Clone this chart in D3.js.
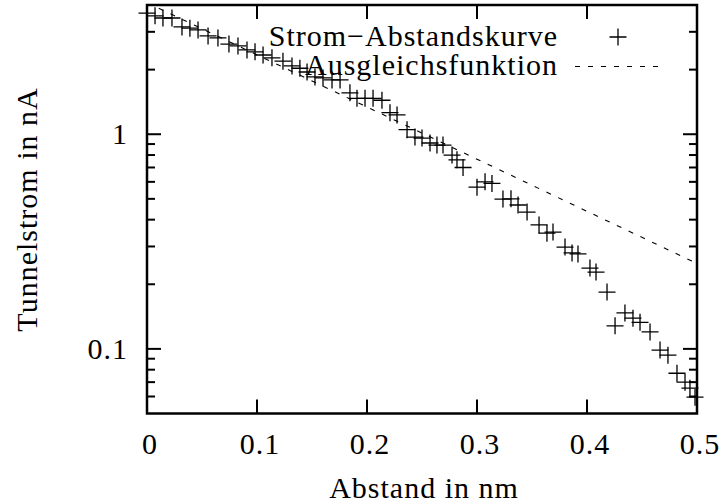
<!DOCTYPE html>
<html>
<head>
<meta charset="utf-8">
<script src="https://cdn.jsdelivr.net/npm/d3@7"></script>
<style>
  body { margin: 0; background: #fff; }
  text { font-family: "Liberation Serif", "Times New Roman", serif; font-size: 30px; fill: #000; letter-spacing: 1px; }
</style>
</head>
<body>
<script>
// Messwerte: Abstand (nm) und Tunnelstrom (nA)
const abstand = [0, 0.0073, 0.0145, 0.0227, 0.0318, 0.039, 0.0464, 0.0555, 0.0645, 0.0745,
  0.0827, 0.0909, 0.0982, 0.1055, 0.1136, 0.1236, 0.1318, 0.139, 0.1455, 0.1527,
  0.16, 0.1682, 0.1755, 0.1845, 0.1909, 0.1982, 0.2055, 0.2136, 0.2209, 0.2273,
  0.2364, 0.2436, 0.25, 0.2573, 0.2636, 0.2691, 0.2773, 0.2818, 0.2873, 0.3,
  0.3073, 0.3136, 0.3236, 0.3309, 0.3373, 0.3455, 0.3564, 0.3636, 0.3691, 0.38,
  0.3864, 0.3918, 0.4027, 0.4082, 0.4182, 0.4255, 0.4345, 0.4418, 0.4482, 0.4573,
  0.4664, 0.4736, 0.4818, 0.4891, 0.4936, 0.4982]
const strom = [3.67, 3.56, 3.48, 3.48, 3.16, 3.12, 3.06, 2.87, 2.81, 2.63,
  2.58, 2.47, 2.42, 2.34, 2.27, 2.19, 2.08, 2.03, 1.95, 1.85,
  1.83, 1.79, 1.79, 1.56, 1.47, 1.47, 1.47, 1.44, 1.26, 1.23,
  1.05, 0.97, 0.96, 0.91, 0.89, 0.89, 0.80, 0.76, 0.70, 0.567,
  0.60, 0.59, 0.499, 0.50, 0.468, 0.434, 0.378, 0.346, 0.350, 0.298,
  0.28, 0.277, 0.238, 0.228, 0.184, 0.128, 0.147, 0.139, 0.133, 0.120,
  0.0987, 0.0935, 0.077, 0.070, 0.0656, 0.0596]

// Ausgleichsfunktion (Exponentialfit -> Gerade im log-Plot), Endpunkte
const fitX = [0, 0.5]
const fitY = [4.1, 0.25]

const xTicks = [0, 0.1, 0.2, 0.3, 0.4, 0.5]
const xTickLabels = ['0', '0.1', '0.2', '0.3', '0.4', '0.5']
const yTicks = [0.1, 1]
const yTickLabels = ['0.1', '1']
const yMinor = [0.06, 0.07, 0.08, 0.09, 0.2, 0.3, 0.4, 0.5, 0.6, 0.7, 0.8, 0.9, 2, 3]

const W = 721, H = 504
const pLeft = 147, pRight = 697, pTop = 5, pBottom = 413.5

const svg = d3.select('body').append('svg')
  .attr('width', W)
  .attr('height', H)

svg.append('rect').attr('width', W).attr('height', H).attr('fill', '#fff')

const x = d3.scaleLinear().domain([0, 0.5]).range([pLeft, pRight])
const y = d3.scaleLog().domain([0.05, 4]).range([pBottom, pTop])

svg.append('clipPath').attr('id', 'clip')
  .append('rect')
  .attr('x', pLeft).attr('y', pTop)
  .attr('width', pRight - pLeft).attr('height', pBottom - pTop)

// Ticks (innen, gespiegelt)
const ticks = svg.append('g').attr('stroke', '#000').attr('stroke-width', 2)
xTicks.forEach(v => {
  ticks.append('line').attr('x1', x(v)).attr('x2', x(v)).attr('y1', pBottom).attr('y2', pBottom - 14)
  ticks.append('line').attr('x1', x(v)).attr('x2', x(v)).attr('y1', pTop).attr('y2', pTop + 14)
})
yTicks.forEach(v => {
  ticks.append('line').attr('x1', pLeft).attr('x2', pLeft + 14).attr('y1', y(v)).attr('y2', y(v))
  ticks.append('line').attr('x1', pRight).attr('x2', pRight - 14).attr('y1', y(v)).attr('y2', y(v))
})
yMinor.forEach(v => {
  ticks.append('line').attr('x1', pLeft).attr('x2', pLeft + 8).attr('y1', y(v)).attr('y2', y(v))
  ticks.append('line').attr('x1', pRight).attr('x2', pRight - 8).attr('y1', y(v)).attr('y2', y(v))
})

// Rahmen
svg.append('rect')
  .attr('x', pLeft).attr('y', pTop)
  .attr('width', pRight - pLeft).attr('height', pBottom - pTop)
  .attr('fill', 'none')
  .attr('stroke', '#000')
  .attr('stroke-width', 2.5)

// Tick-Beschriftung
svg.append('g').selectAll('text').data(xTicks).join('text')
  .attr('x', d => x(d) + 3)
  .attr('y', 454)
  .attr('text-anchor', 'middle')
  .text((d, i) => xTickLabels[i])

svg.append('g').selectAll('text').data(yTicks).join('text')
  .attr('x', 128)
  .attr('y', d => y(d))
  .attr('dy', '0.33em')
  .attr('text-anchor', 'end')
  .text((d, i) => yTickLabels[i])

// Achsenbeschriftung
svg.append('text')
  .attr('x', 424).attr('y', 498)
  .attr('text-anchor', 'middle')
  .text('Abstand in nm')

svg.append('text')
  .attr('transform', 'translate(37,209.5) rotate(-90)')
  .attr('text-anchor', 'middle')
  .text('Tunnelstrom in nA')

// Ausgleichsfunktion
const fitLine = d3.line().x(d => x(d[0])).y(d => y(d[1]))
svg.append('path')
  .attr('clip-path', 'url(#clip)')
  .attr('d', fitLine(d3.zip(fitX, fitY)))
  .attr('fill', 'none')
  .attr('stroke', '#000')
  .attr('stroke-width', 1.1)
  .attr('stroke-dasharray', '5,8')

// Messpunkte
const plus = 'M-8.5,0H8.5M0,-8.5V8.5'
svg.append('g').selectAll('path').data(d3.zip(abstand, strom)).join('path')
  .attr('transform', d => `translate(${x(d[0])},${y(d[1])})`)
  .attr('d', plus)
  .attr('fill', 'none')
  .attr('stroke', '#000')
  .attr('stroke-width', 1.3)

// Legende
svg.append('text').attr('x', 558).attr('y', 46).attr('text-anchor', 'end').text('Strom−Abstandskurve')
svg.append('text').attr('x', 558).attr('y', 75).attr('text-anchor', 'end').text('Ausgleichsfunktion')
svg.append('path')
  .attr('transform', 'translate(618,37)')
  .attr('d', plus)
  .attr('stroke', '#000')
  .attr('stroke-width', 1.3)
svg.append('line')
  .attr('x1', 575).attr('x2', 661).attr('y1', 66.5).attr('y2', 66.5)
  .attr('stroke', '#000')
  .attr('stroke-width', 1.1)
  .attr('stroke-dasharray', '5,8')
</script>
</body>
</html>
